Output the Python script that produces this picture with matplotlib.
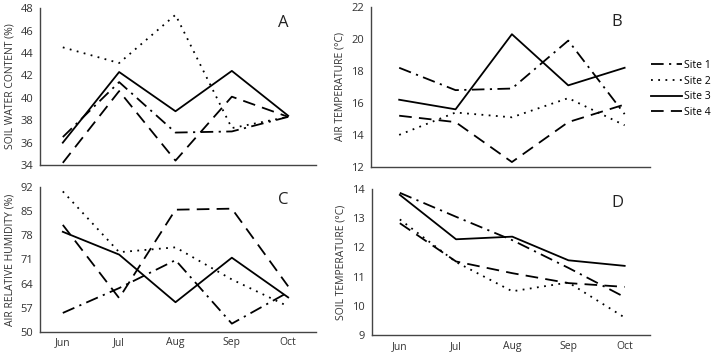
import matplotlib
matplotlib.use("Agg")
import matplotlib.pyplot as plt
from matplotlib.lines import Line2D

plt.rcParams['font.family'] = ['Open Sans', 'DejaVu Sans']

months = ["Jun", "Jul", "Aug", "Sep", "Oct"]
sites = ["Site 1", "Site 2", "Site 3", "Site 4"]

# A - soil water content (%)
swc_site1 = [36.5, 41.4, 36.9, 37.0, 38.3]
swc_site2 = [44.5, 43.1, 47.4, 37.3, 38.3]
swc_site3 = [36.0, 42.3, 38.8, 42.4, 38.4]
swc_site4 = [34.2, 40.6, 34.4, 40.1, 38.3]

# B - air temperature (°C)
at_site1 = [18.2, 16.8, 16.9, 19.9, 15.3]
at_site2 = [14.0, 15.4, 15.1, 16.3, 14.6]
at_site3 = [16.2, 15.6, 20.3, 17.1, 18.2]
at_site4 = [15.2, 14.8, 12.3, 14.8, 15.9]

# C - air relative humidity (%)
rh_site1 = [55.5, 62.7, 70.8, 52.4, 61.5]
rh_site2 = [90.7, 73.1, 74.5, 65.2, 57.4]
rh_site3 = [79.0, 72.4, 58.6, 71.5, 60.0]
rh_site4 = [81.0, 59.8, 85.4, 85.7, 63.2]

# D - soil temperature (°C)
st_site1 = [13.87, 13.05, 12.25, 11.3, 10.3]
st_site2 = [12.96, 11.5, 10.5, 10.8, 9.6]
st_site3 = [13.8, 12.28, 12.37, 11.56, 11.37]
st_site4 = [12.83, 11.52, 11.12, 10.78, 10.65]

styles = [(0, (7, 3, 1.2, 3)), (0, (1, 3)), "-", (0, (7, 4))]

panels = [
    ("A", [swc_site1, swc_site2, swc_site3, swc_site4], "SOIL WATER CONTENT (%)",
     [34, 36, 38, 40, 42, 44, 46, 48], [0.056, 0.531, 0.384, 0.446], False),
    ("B", [at_site1, at_site2, at_site3, at_site4], "AIR TEMPERATURE (°C)",
     [12, 14, 16, 18, 20, 22], [0.516, 0.526, 0.388, 0.454], False),
    ("C", [rh_site1, rh_site2, rh_site3, rh_site4], "AIR RELATIVE HUMIDITY (%)",
     [50, 57, 64, 71, 78, 85, 92], [0.056, 0.057, 0.384, 0.412], True),
    ("D", [st_site1, st_site2, st_site3, st_site4], "SOIL TEMPERATURE (°C)",
     [9, 10, 11, 12, 13, 14], [0.517, 0.048, 0.387, 0.415], True),
]

fig = plt.figure(figsize=(7.19, 3.52), dpi=100)

for letter, series, ylabel, yticks, rect, show_x in panels:
    ax = fig.add_axes(rect)
    x = list(range(len(months)))
    for vals, ls in zip(series, styles):
        ax.plot(x, vals, color="black", linestyle=ls, linewidth=1.3)
    ax.set_ylim(yticks[0], yticks[-1])
    ax.set_yticks(yticks)
    ax.set_xticks(x)
    if show_x:
        ax.set_xticklabels(months)
    else:
        ax.set_xticklabels([])
    if letter in ("A", "C"):
        ax.set_xlim(-0.4, 4.5)
    else:
        ax.set_xlim(-0.5, 4.45)
    for s in ("top", "right"):
        ax.spines[s].set_visible(False)
    for s in ("left", "bottom"):
        ax.spines[s].set_color("#444444")
        ax.spines[s].set_linewidth(1.0)
    ax.tick_params(axis="y", length=0, labelsize=8, colors="#333333", pad=5)
    ax.tick_params(axis="x", length=0, labelsize=7.5, colors="#333333", pad=4)
    ax.set_ylabel(ylabel, fontsize=7.5, color="#333333", labelpad=4)
    ax.text(0.86, 0.88, letter, transform=ax.transAxes, fontsize=12, color="#222222")

handles = [Line2D([], [], color="black", linestyle=ls, linewidth=1.3) for ls in styles]
fig.legend(handles, sites, loc="upper left", bbox_to_anchor=(0.905, 0.83), frameon=False,
           fontsize=7.5, handlelength=3.0, handletextpad=0.2, labelspacing=0.45,
           borderpad=0, borderaxespad=0)

fig.savefig("out.png", dpi=100)
